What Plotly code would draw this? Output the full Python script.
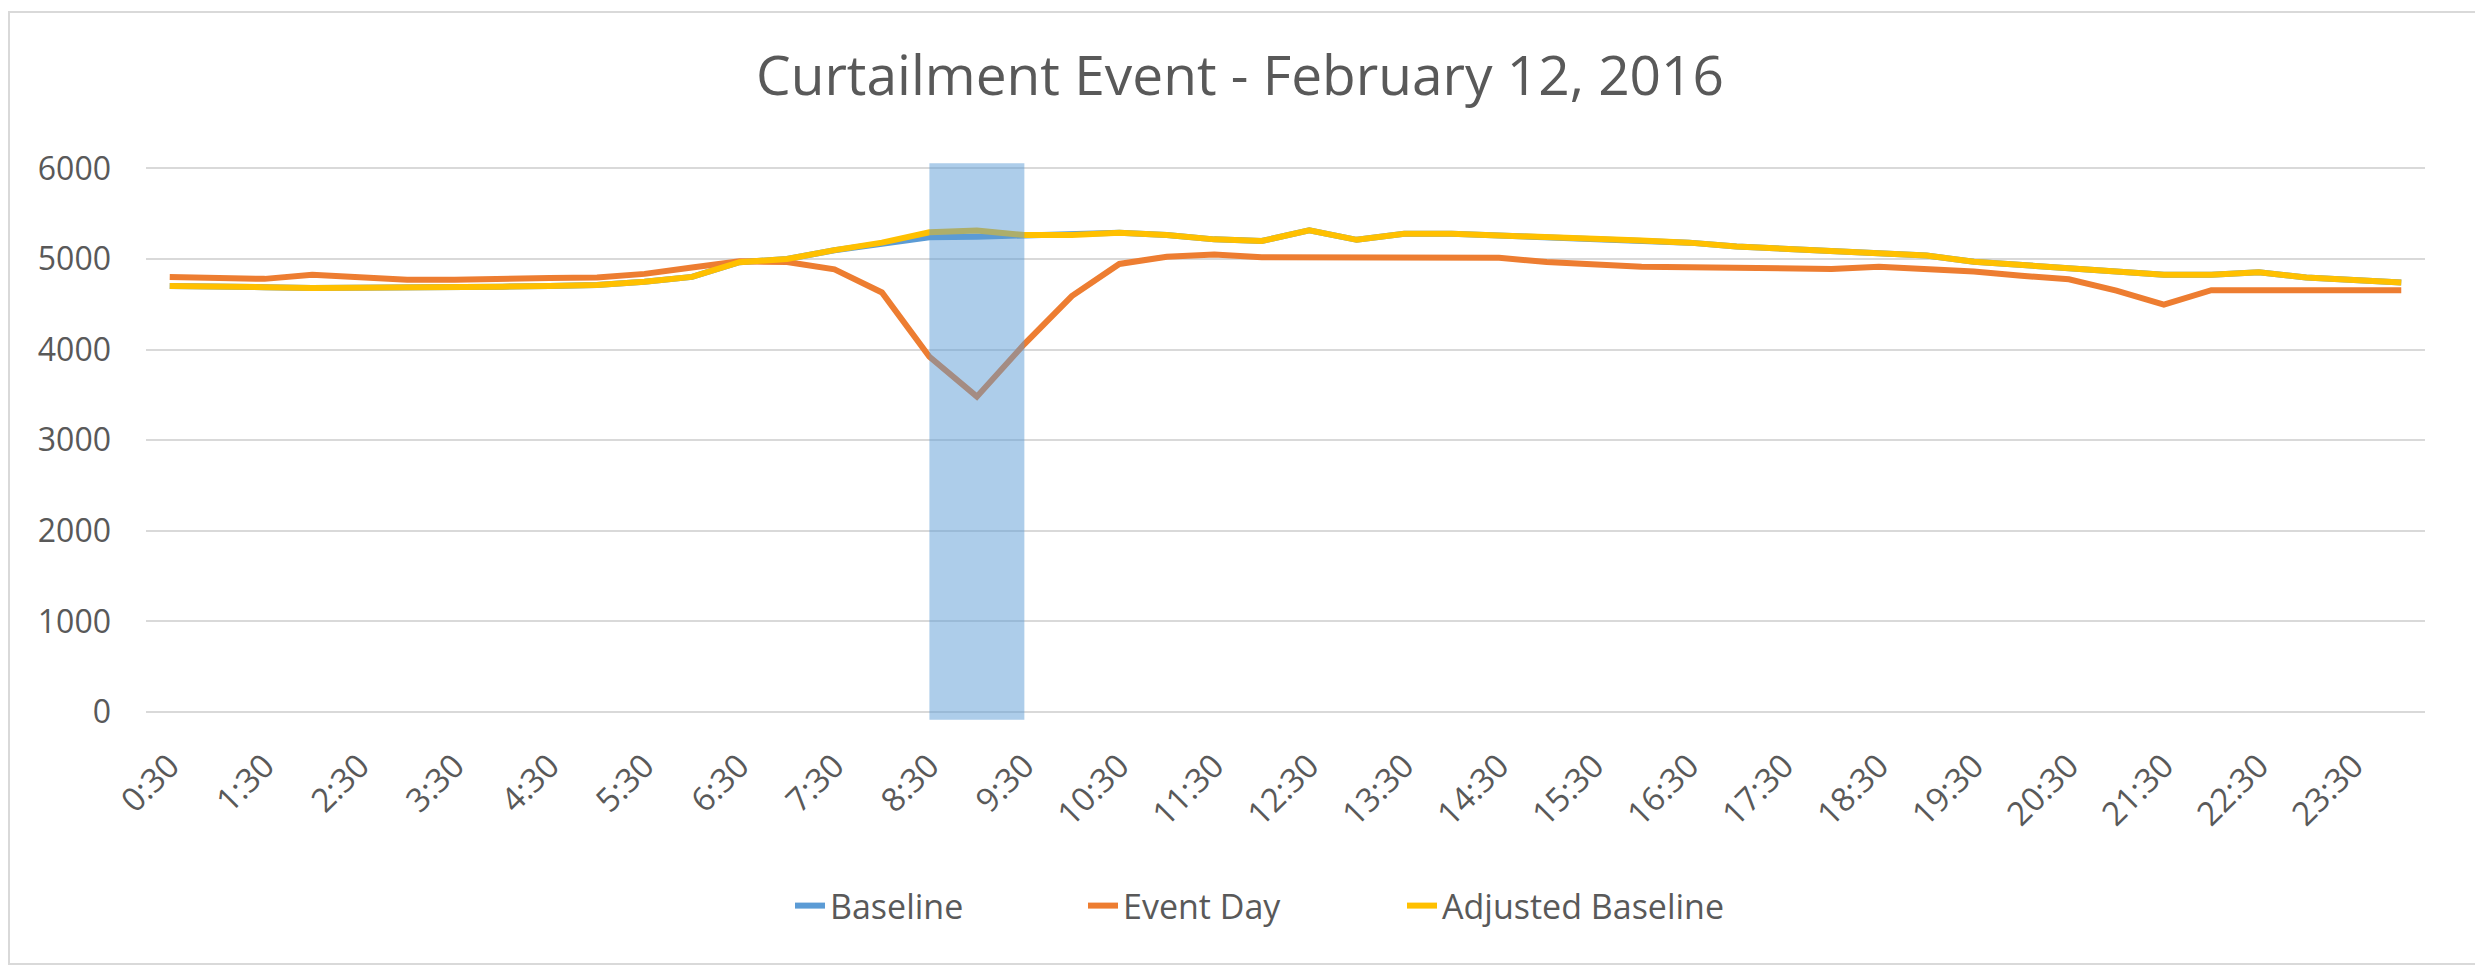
import plotly.graph_objects as go

# Half-hour intervals 0:30 ... 24:00
times = ["0:30", "1:00", "1:30", "2:00", "2:30", "3:00", "3:30", "4:00", "4:30", "5:00",
         "5:30", "6:00", "6:30", "7:00", "7:30", "8:00", "8:30", "9:00", "9:30", "10:00",
         "10:30", "11:00", "11:30", "12:00", "12:30", "13:00", "13:30", "14:00", "14:30", "15:00",
         "15:30", "16:00", "16:30", "17:00", "17:30", "18:00", "18:30", "19:00", "19:30", "20:00",
         "20:30", "21:00", "21:30", "22:00", "22:30", "23:00", "23:30", "24:00"]

tick_labels = ["0:30", "1:30", "2:30", "3:30", "4:30", "5:30", "6:30", "7:30", "8:30", "9:30",
               "10:30", "11:30", "12:30", "13:30", "14:30", "15:30", "16:30", "17:30", "18:30",
               "19:30", "20:30", "21:30", "22:30", "23:30"]

baseline = [4700, 4700, 4688, 4680, 4680, 4680, 4680, 4694, 4701, 4712,
            4748, 4802, 4964, 5000, 5095, 5160, 5240, 5245, 5262, 5263,
            5288, 5263, 5216, 5198, 5315, 5211, 5278, 5278, 5259, 5233,
            5222, 5204, 5180, 5137, 5111, 5085, 5063, 5037, 4970, 4937,
            4900, 4863, 4826, 4826, 4852, 4796, 4767, 4741]

event_day = [4800, 4790, 4780, 4825, 4805, 4770, 4770, 4785, 4790, 4795,
             4835, 4905, 4975, 4965, 4885, 4630, 3920, 3480, 4060, 4590,
             4945, 5025, 5050, 5020, 5018, 5012, 5012, 5012, 5012, 4965,
             4938, 4915, 4908, 4905, 4890, 4890, 4915, 4890, 4862, 4815,
             4775, 4650, 4495, 4655, 4655, 4655, 4655, 4655]

adjusted_baseline = [4700, 4700, 4688, 4680, 4680, 4680, 4680, 4694, 4701, 4712,
                     4748, 4802, 4964, 5000, 5097, 5180, 5295, 5313, 5263, 5263,
                     5288, 5263, 5216, 5198, 5315, 5211, 5278, 5278, 5259, 5233,
                     5222, 5204, 5180, 5137, 5111, 5085, 5063, 5037, 4970, 4937,
                     4900, 4863, 4826, 4826, 4852, 4796, 4767, 4741]

event_start, event_end = "8:30", "9:30"
y_ticks = [0, 1000, 2000, 3000, 4000, 5000, 6000]

FONT = "Open Sans, sans-serif"
GRAY = "#595959"

OFF = 8  # page body margin
W, H = 2483 - OFF, 970 - OFF
ML, MT = 146 - OFF, 162 - OFF
PR, PB = 2425 - OFF, 721 - OFF  # plot right / bottom edges in page px
MR, MB = W - PR, H - PB
pw, ph = PR - ML, PB - MT


def px2paper_x(px):
    return (px - OFF - ML) / pw


def px2paper_y(py):
    return (PB - (py - OFF)) / ph


fig = go.Figure()
fig.add_trace(go.Scatter(x=times, y=baseline, name="Baseline", mode="lines",
                         line=dict(color="#5B9BD5", width=6), legend="legend"))
fig.add_trace(go.Scatter(x=times, y=event_day, name="Event Day", mode="lines",
                         line=dict(color="#ED7D31", width=6), legend="legend2"))
fig.add_trace(go.Scatter(x=times, y=adjusted_baseline, name="Adjusted Baseline", mode="lines",
                         line=dict(color="#FFC000", width=6), legend="legend3"))

# event window highlight
fig.add_shape(type="rect", xref="x", yref="y", x0=event_start, x1=event_end,
              y0=-85, y1=6055, fillcolor="#5B9BD5", opacity=0.5, line_width=0, layer="above")

# outer chart border
fig.add_shape(type="rect", xref="paper", yref="paper",
              x0=px2paper_x(9), x1=px2paper_x(2477), y0=px2paper_y(12), y1=px2paper_y(964),
              line=dict(color="#D9D9D9", width=2), fillcolor="rgba(0,0,0,0)", layer="below")


def leg(px):
    return dict(orientation="h", x=px2paper_x(px), xanchor="left",
                y=px2paper_y(906), yanchor="middle",
                font=dict(family=FONT, size=34, color=GRAY),
                bgcolor="rgba(0,0,0,0)")


fig.update_layout(
    width=W, height=H,
    margin=dict(l=ML, r=MR, t=MT, b=MB),
    paper_bgcolor="white", plot_bgcolor="white",
    title=dict(text="Curtailment Event - February 12, 2016",
               x=(1240 - OFF) / W, xref="container", xanchor="center",
               y=1 - (76 - OFF) / H, yanchor="middle", yref="container",
               font=dict(family=FONT, size=55, color=GRAY)),
    font=dict(family=FONT, color=GRAY),
    showlegend=True,
    legend=leg(790),
    legend2=leg(1083),
    legend3=leg(1402),
    xaxis=dict(type="category", categoryorder="array", categoryarray=times,
               tickmode="array", tickvals=tick_labels, ticktext=tick_labels,
               tickangle=-45, showgrid=False, showline=False, zeroline=False,
               ticks="", ticklabelstandoff=18,
               tickfont=dict(family=FONT, size=33, color=GRAY), range=[-0.5, 47.5]),
    yaxis=dict(range=[-100, 6070], tickmode="array", tickvals=y_ticks,
               showgrid=True, gridcolor="#D9D9D9", gridwidth=1.5, zeroline=False,
               showline=False, ticks="", ticklabelstandoff=34,
               tickfont=dict(family=FONT, size=32, color=GRAY)),
)

fig.write_html("out.html")
